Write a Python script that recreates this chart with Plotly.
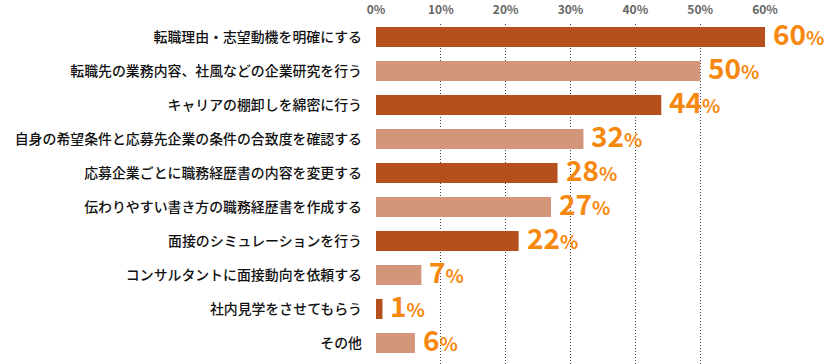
import plotly.graph_objects as go

categories = [
    "転職理由・志望動機を明確にする",
    "転職先の業務内容、社風などの企業研究を行う",
    "キャリアの棚卸しを綿密に行う",
    "自身の希望条件と応募先企業の条件の合致度を確認する",
    "応募企業ごとに職務経歴書の内容を変更する",
    "伝わりやすい書き方の職務経歴書を作成する",
    "面接のシミュレーションを行う",
    "コンサルタントに面接動向を依頼する",
    "社内見学をさせてもらう",
    "その他",
]
values = [60, 50, 44, 32, 28, 27, 22, 7, 1, 6]
tick_vals = [0, 10, 20, 30, 40, 50, 60]
tick_text = ["0%", "10%", "20%", "30%", "40%", "50%", "60%"]

dark = "#B5501E"
light = "#D4967A"
colors = [dark if i % 2 == 0 else light for i in range(len(values))]

fig = go.Figure(go.Bar(
    x=values, y=list(range(len(values))), orientation="h",
    marker=dict(color=colors, line=dict(width=0)),
    width=0.59,
    hoverinfo="skip",
))

for i, v in enumerate(values):
    fig.add_annotation(
        x=v, y=i, xref="x", yref="y",
        text=f"<b>{v}</b><span style='font-size:19px'><b>%</b></span>",
        showarrow=False, xanchor="left", yanchor="middle",
        xshift=7, yshift=4, borderpad=0,
        font=dict(color="#F7880F", size=28, family="Noto Sans CJK JP"),
    )

fig.update_layout(
    width=827, height=364,
    margin=dict(l=375.5, r=61.5, t=24, b=0, autoexpand=False),
    plot_bgcolor="white", paper_bgcolor="white",
    showlegend=False,
    font=dict(family="Noto Sans CJK JP", color="#111"),
    xaxis=dict(
        range=[0, 60], side="top", tickvals=tick_vals,
        ticktext=[f"<b>{t}</b>" for t in tick_text],
        showgrid=True, gridcolor="#444", griddash="1px,2px", gridwidth=1,
        zeroline=False, showline=False, ticks="", automargin=False,
        ticklabelstandoff=7,
        tickfont=dict(size=12, color="#666", family="Noto Sans CJK JP"),
    ),
    yaxis=dict(
        range=[9.618, -0.382], tickvals=list(range(len(categories))),
        ticktext=categories, showgrid=False,
        zeroline=False, ticks="", automargin=False,
        ticklabelstandoff=13,
        tickfont=dict(size=13.9, color="#111", family="Noto Sans CJK JP", weight=500),
    ),
)
fig.write_html("out.html", config={"displayModeBar": False},
               post_script="document.body.style.margin='0';")
